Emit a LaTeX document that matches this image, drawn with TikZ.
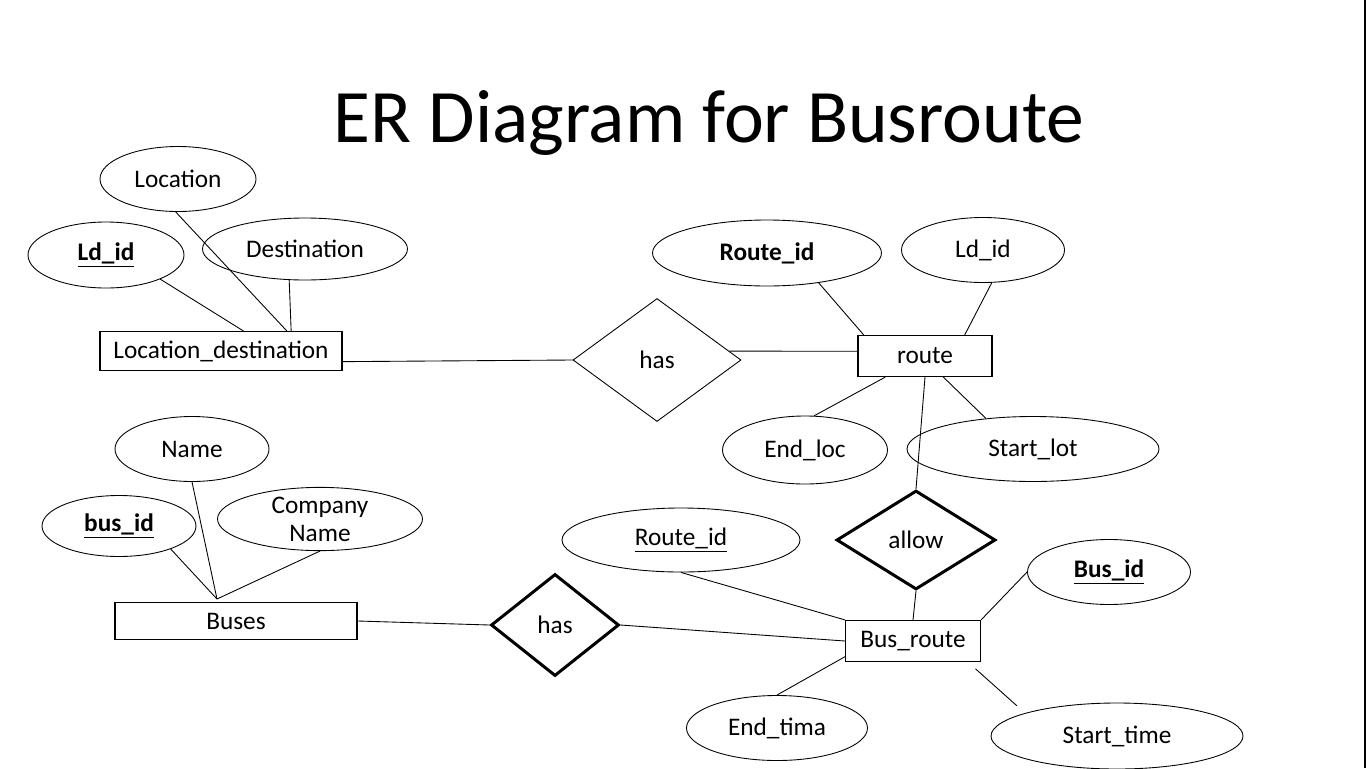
\documentclass[tikz,border=0pt]{standalone}
\usepackage{fontspec}
\setmainfont{Carlito}
\usetikzlibrary{shapes.geometric}
\tikzset{
  sz/.style 2 args={minimum width=#1*0.02cm, minimum height=#2*0.02cm},
  attr/.style={draw, ellipse, inner sep=0pt, line width=0.5pt},
  ent/.style={draw, rectangle, inner sep=0pt, line width=0.7pt},
  rel/.style={draw, diamond, inner sep=0pt, line width=0.5pt},
  relbold/.style={rel, line width=1.7pt},
  link/.style={line width=0.5pt}
}
\begin{document}
\begin{tikzpicture}[x=0.02cm, y=-0.02cm, font=\fontsize{14.4}{16}\selectfont]
\useasboundingbox (0,0) rectangle (1366,768);
\draw[line width=1.1pt] (1365,0) -- (1365,768);
\node[anchor=base, font=\fontsize{43}{48}\selectfont] (title) at (709,142) {ER Diagram for Busroute};

\node[attr, sz={156}{65}] (loc) at (178,179) {Location};
\node[attr, sz={156}{66}] (ldid) at (106,255) {\underline{\textbf{Ld\_id}}};
\node[attr, sz={205}{62}] (dest) at (305,249) {Destination};
\node[ent, sz={242}{39}] (ld) at (221,351) {Location\_destination};
\node[rel, sz={168}{123}] (has1) at (657,360) {has};

\node[ent, sz={134}{41}] (route) at (925,356) {route};
\node[attr, sz={229}{66}] (rid) at (767,253) {\textbf{Route\_id}};
\node[attr, sz={163}{65}] (ldr) at (983,250) {Ld\_id};
\node[attr, sz={165}{68}] (endloc) at (805,450) {End\_loc};
\node[attr, sz={252}{65}] (startlot) at (1033,449) {Start\_lot};
\node[relbold, sz={159}{99}] (allow) at (916,540) {allow};

\node[ent, sz={135}{41}] (busroute) at (913,641) {Bus\_route};
\node[attr, sz={238}{64}] (ridu) at (681,540) {\underline{Route\_id}};
\node[attr, sz={163}{65}] (busidr) at (1109,572) {\underline{\textbf{Bus\_id}}};
\node[attr, sz={181}{65}] (endtima) at (777,728) {End\_tima};
\node[attr, sz={252}{66}] (starttime) at (1117,736) {Start\_time};
\node[relbold, sz={128}{102}] (has2) at (555,625) {has};

\node[ent, sz={242}{37}] (buses) at (236,621) {Buses};
\node[attr, sz={154}{65}] (name) at (192,449) {Name};
\node[attr, sz={154}{61}] (busid) at (119,526) {\underline{\textbf{bus\_id}}};
\node[attr, sz={205}{61}, align=center] (comp) at (320,519) {Company\\Name};
\coordinate (busjoin) at (217,599);

\draw[link] (loc.-94) -- (ld.17);
\draw[link] (ldid.-24) -- (ld.42);
\draw[link] (dest.-117) -- (ld.16);
\draw[link] (ld.-5) -- (has1.west);
\draw[link] (has1.7) -- (route.176);
\draw[link] (rid.-30) -- (route.161);
\draw[link] (ldr.-75) -- (route.28);
\draw[link] (route.-152) -- (endloc.75);
\draw[link] (route.-49) -- (startlot.147);
\draw[link] (route.south) -- (allow.north);
\draw[link] (allow.south) -- (busroute.north);
\draw[link] (ridu.south) -- (busroute.north west);
\draw[link] (busidr.west) -- (busroute.north east);
\draw[link] (busroute.-167) -- (endtima.north);
\draw[link, shorten <=0.2cm, shorten >=0.22cm] (busroute.-21) -- (starttime.166);
\draw[link] (has2.east) -- (busroute.west);
\draw[link] (buses.east) -- (has2.west);
\draw[link] (busid.-24) -- (busjoin);
\draw[link] (name.south) -- (busjoin);
\draw[link] (comp.south) -- (busjoin);
\end{tikzpicture}
\end{document}
